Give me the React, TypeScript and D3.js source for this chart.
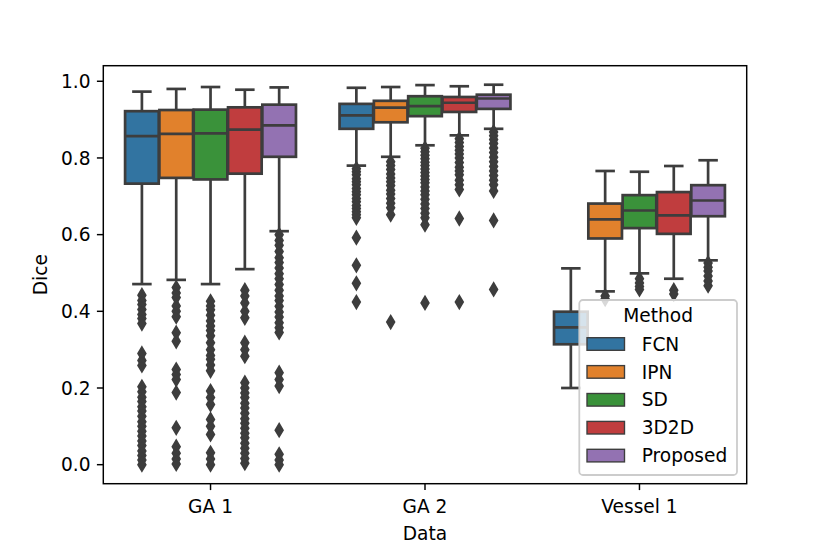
import React from "react";
import * as d3 from "d3";

const groups = ["GA 1", "GA 2", "Vessel 1"];
const methods = ["FCN", "IPN", "SD", "3D2D", "Proposed"];
const colors = ["#3274a1", "#e1812c", "#3a923a", "#c03d3e", "#9372b2"];
const yTicks = [0.0, 0.2, 0.4, 0.6, 0.8, 1.0];

// [whisker low, q1, median, q3, whisker high] per method
const ga1Stats = [
  [0.471, 0.733, 0.857, 0.922, 0.973],
  [0.482, 0.748, 0.863, 0.925, 0.98],
  [0.471, 0.744, 0.864, 0.926, 0.985],
  [0.51, 0.759, 0.874, 0.932, 0.978],
  [0.609, 0.803, 0.885, 0.939, 0.984],
];
const ga2Stats = [
  [0.78, 0.876, 0.911, 0.941, 0.983],
  [0.803, 0.893, 0.931, 0.949, 0.985],
  [0.833, 0.909, 0.935, 0.961, 0.99],
  [0.859, 0.92, 0.944, 0.959, 0.987],
  [0.876, 0.928, 0.955, 0.965, 0.991],
];
const vesselStats = [
  [0.2, 0.314, 0.358, 0.399, 0.512],
  [0.452, 0.59, 0.64, 0.681, 0.766],
  [0.499, 0.617, 0.663, 0.703, 0.764],
  [0.485, 0.602, 0.65, 0.711, 0.779],
  [0.533, 0.648, 0.689, 0.729, 0.794],
];

// outliers per method
const ga1Fliers = [
  [0.442, 0.428, 0.418, 0.405, 0.392, 0.381, 0.368, 0.29, 0.272, 0.259,
    0.203, 0.19, 0.176, 0.165, 0.151, 0.14, 0.126, 0.112, 0.1, 0.087, 0.075,
    0.062, 0.05, 0.036, 0.024, 0.012, 0.0],
  [0.462, 0.448, 0.436, 0.414, 0.4, 0.386, 0.344, 0.322, 0.248, 0.235,
    0.222, 0.188, 0.096, 0.047, 0.03, 0.015, 0.002],
  [0.426, 0.414, 0.404, 0.39, 0.375, 0.362, 0.35, 0.336, 0.318, 0.3, 0.285,
    0.275, 0.26, 0.245, 0.192, 0.175, 0.157, 0.118, 0.1, 0.079, 0.031, 0.015,
    0.0],
  [0.455, 0.44, 0.422, 0.4, 0.383, 0.318, 0.3, 0.283, 0.214, 0.2, 0.187,
    0.175, 0.16, 0.148, 0.134, 0.12, 0.108, 0.095, 0.082, 0.07, 0.056, 0.043,
    0.03, 0.016, 0.004],
  [0.6, 0.585, 0.572, 0.556, 0.54, 0.527, 0.513, 0.498, 0.485, 0.47, 0.455,
    0.44, 0.428, 0.413, 0.398, 0.385, 0.37, 0.357, 0.345, 0.24, 0.222, 0.205,
    0.09, 0.027, 0.012, 0.0],
];
const ga2Fliers = [
  [0.772, 0.764, 0.756, 0.746, 0.738, 0.73, 0.72, 0.712, 0.704, 0.694, 0.686,
    0.676, 0.668, 0.66, 0.652, 0.644, 0.592, 0.52, 0.473, 0.424],
  [0.79, 0.78, 0.77, 0.758, 0.748, 0.738, 0.728, 0.716, 0.706, 0.694, 0.682,
    0.67, 0.652, 0.372],
  [0.825, 0.816, 0.807, 0.798, 0.789, 0.78, 0.771, 0.762, 0.753, 0.744, 0.735,
    0.724, 0.714, 0.704, 0.692, 0.68, 0.668, 0.656, 0.644, 0.626, 0.422],
  [0.85, 0.84, 0.83, 0.82, 0.81, 0.8, 0.788, 0.776, 0.766, 0.756, 0.742,
    0.73, 0.718, 0.642, 0.424],
  [0.868, 0.858, 0.848, 0.838, 0.826, 0.814, 0.802, 0.79, 0.778, 0.766,
    0.754, 0.742, 0.73, 0.714, 0.637, 0.457],
];
const vesselFliers = [
  [],
  [0.44, 0.432],
  [0.485, 0.474, 0.465, 0.457],
  [0.455, 0.445],
  [0.526, 0.515, 0.505, 0.492, 0.479, 0.467],
];

const allStats = [ga1Stats, ga2Stats, vesselStats];
const allFliers = [ga1Fliers, ga2Fliers, vesselFliers];

const W = 830;
const H = 554;
const margin = { left: 103.3, right: 746.7, top: 65.7, bottom: 483.7 };
const gray = "#3d3d3d";
const font = "DejaVu Sans, sans-serif";
const fs = 18.6;
const lw = 2.7;

export default function App() {
  const x = d3
    .scaleBand<string>()
    .domain(groups)
    .range([margin.left, margin.right])
    .paddingInner(0)
    .paddingOuter(0);
  const band = x.bandwidth();
  const hue = d3
    .scaleBand<string>()
    .domain(methods)
    .range([-0.4 * band, 0.4 * band]);
  const boxW = hue.bandwidth() * 0.98;
  const capW = boxW * 0.5;

  const y = d3.scaleLinear().domain([-0.0496, 1.0406]).range([margin.bottom, margin.top]);

  const diamond = "M0,-6.4L3.8,0L0,6.4L-3.8,0Z";

  const legendX = 579.3;
  const legendY = 300;
  const legendW = 157.7;
  const legendH = 175;

  return (
    <svg
      width={W}
      height={H}
      style={{ position: "absolute", left: 0, top: 0, background: "white" }}
      fontFamily={font}
    >
      <rect x={0} y={0} width={W} height={H} fill="white" />

      {groups.map((g, gi) =>
        methods.map((m, mi) => {
          const [lo, q1, med, q3, hi] = allStats[gi][mi];
          const cx = (x(g) as number) + band / 2 + (hue(m) as number) + hue.bandwidth() / 2;
          return (
            <g key={`${g}-${m}`}>
              <line x1={cx} x2={cx} y1={y(q1)} y2={y(lo)} stroke={gray} strokeWidth={lw} />
              <line x1={cx} x2={cx} y1={y(q3)} y2={y(hi)} stroke={gray} strokeWidth={lw} />
              <line x1={cx - capW / 2} x2={cx + capW / 2} y1={y(lo)} y2={y(lo)}
                stroke={gray} strokeWidth={lw} strokeLinecap="square" />
              <line x1={cx - capW / 2} x2={cx + capW / 2} y1={y(hi)} y2={y(hi)}
                stroke={gray} strokeWidth={lw} strokeLinecap="square" />
              <rect x={cx - boxW / 2} y={y(q3)} width={boxW} height={y(q1) - y(q3)}
                fill={colors[mi]} stroke={gray} strokeWidth={lw} />
              <line x1={cx - boxW / 2} x2={cx + boxW / 2} y1={y(med)} y2={y(med)}
                stroke={gray} strokeWidth={lw} />
              {allFliers[gi][mi].map((v, k) => (
                <path key={k} d={diamond} transform={`translate(${cx},${y(v)})`}
                  fill={gray} stroke={gray} strokeWidth={1.8} />
              ))}
            </g>
          );
        })
      )}

      {/* axes frame */}
      <rect x={margin.left} y={margin.top} width={margin.right - margin.left}
        height={margin.bottom - margin.top} fill="none" stroke="black" strokeWidth={1.46} />

      {/* y ticks */}
      {yTicks.map((t) => (
        <g key={t} transform={`translate(0,${y(t)})`}>
          <line x1={margin.left - 6.4} x2={margin.left} stroke="black" strokeWidth={1.46} />
          <text x={margin.left - 12.8} dy="0.36em" textAnchor="end" fontSize={fs} fill="black">
            {t.toFixed(1)}
          </text>
        </g>
      ))}

      {/* x ticks */}
      {groups.map((g) => {
        const cx = (x(g) as number) + band / 2;
        return (
          <g key={g}>
            <line x1={cx} x2={cx} y1={margin.bottom} y2={margin.bottom + 6.4}
              stroke="black" strokeWidth={1.46} />
            <text x={cx} y={512.5} textAnchor="middle" fontSize={fs} fill="black">{g}</text>
          </g>
        );
      })}

      <text x={(margin.left + margin.right) / 2} y={540} textAnchor="middle" fontSize={fs}>
        Data
      </text>
      <text transform={`translate(47,${(margin.top + margin.bottom) / 2}) rotate(-90)`}
        textAnchor="middle" fontSize={fs}>
        Dice
      </text>

      {/* legend */}
      <g>
        <rect x={legendX} y={legendY} width={legendW} height={legendH} rx={3.6}
          fill="white" fillOpacity={0.8} stroke="#cccccc" strokeWidth={1.8} />
        <text x={legendX + legendW / 2} y={321.7} textAnchor="middle" fontSize={fs}>
          Method
        </text>
        {methods.map((m, i) => {
          const cy = 344 + i * 27.9;
          return (
            <g key={m}>
              <rect x={587} y={cy - 6.3} width={37.5} height={12.6} fill={colors[i]}
                stroke={gray} strokeWidth={1.37} />
              <text x={641.7} y={cy} dy="0.36em" fontSize={fs}>{m}</text>
            </g>
          );
        })}
      </g>
    </svg>
  );
}
